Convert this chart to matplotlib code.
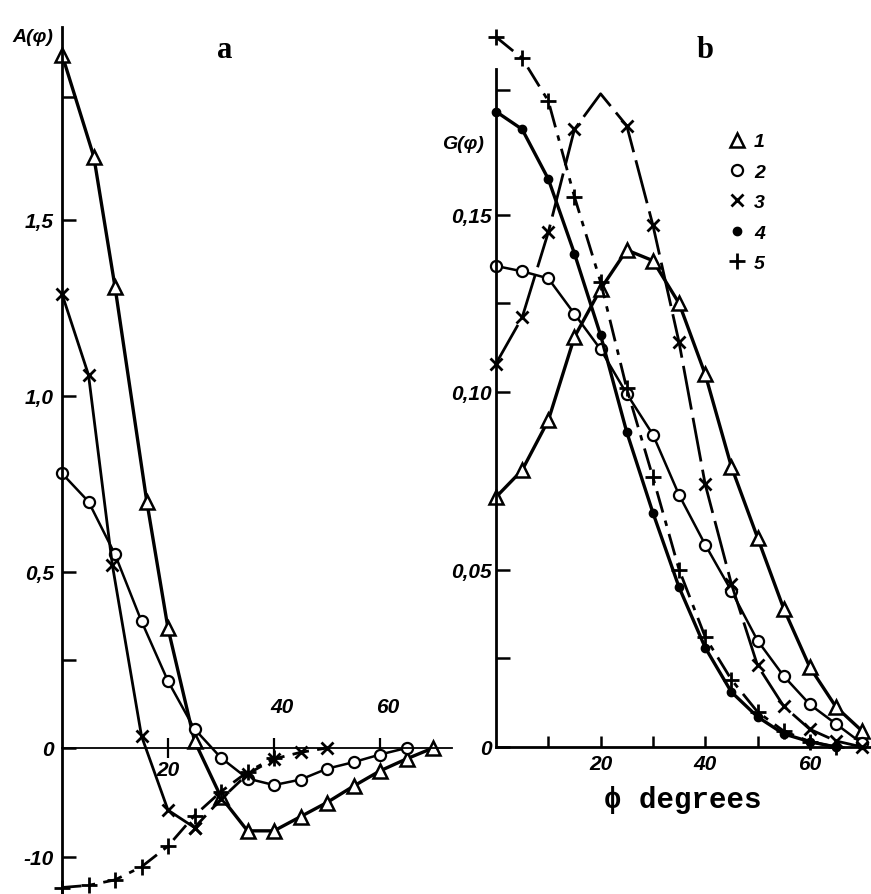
import numpy as np
import matplotlib
matplotlib.use("Agg")
import matplotlib.pyplot as plt
from matplotlib.lines import Line2D
from matplotlib.ticker import NullLocator

# ---------------- data ----------------
# Panel a: A(phi); positive values in A units, negative values in the "-10" units of the lower scale
phi_a1 = [0, 6, 10, 16, 20, 25, 30, 35, 40, 45, 50, 55, 60, 65, 70]
a1 = [1.97, 1.68, 1.31, 0.70, 0.34, 0.02, -4.5, -7.6, -7.6, -6.3, -5.0, -3.5, -2.1, -1.0, 0.0]
phi_a2 = [0, 5, 10, 15, 20, 25, 30, 35, 40, 45, 50, 55, 60, 65]
a2 = [0.78, 0.70, 0.55, 0.36, 0.19, 0.054, -0.9, -2.8, -3.4, -2.9, -1.9, -1.3, -0.6, 0.0]
phi_a3 = [0, 5, 9.5, 15, 20, 25, 30, 35, 40, 45, 50]
a3 = [1.29, 1.06, 0.52, 0.034, -5.7, -7.3, -4.7, -2.4, -1.0, -0.4, 0.0]
phi_a5 = [0, 5, 10, 15, 20, 25, 30, 35, 40]
a5 = [-12.8, -12.6, -12.1, -10.9, -9.0, -6.2, -4.0, -2.2, -0.9]

# Panel b: G(phi)
phi_b = [0, 5, 10, 15, 20, 25, 30, 35, 40, 45, 50, 55, 60, 65, 70]
b1 = [0.0704, 0.078, 0.092, 0.1155, 0.129, 0.140, 0.137, 0.125, 0.105, 0.079, 0.059, 0.039, 0.0225, 0.0113, 0.0045]
b2 = [0.1355, 0.134, 0.132, 0.122, 0.112, 0.0995, 0.088, 0.071, 0.057, 0.044, 0.030, 0.020, 0.012, 0.0065, 0.001]
b3 = [0.108, 0.121, 0.145, 0.174, 0.184, 0.175, 0.147, 0.114, 0.074, 0.046, 0.023, 0.0115, 0.005, 0.0017, 0.0]
b4 = [0.179, 0.174, 0.160, 0.139, 0.116, 0.0887, 0.066, 0.045, 0.028, 0.0155, 0.0085, 0.0037, 0.0015, 0.0]
b5 = [0.200, 0.194, 0.182, 0.155, 0.131, 0.101, 0.076, 0.050, 0.031, 0.019, 0.0099, 0.0045, 0.0015, 0.0]

a_yticks = [-10, 0, 0.5, 1.0, 1.5, 1.85]
a_ylabels = ["-10", "0", "0,5", "1,0", "1,5", ""]
a_xticks = [20, 40, 60]
b_yticks = [0, 0.05, 0.10, 0.15, 0.185]
b_ylabels = ["0", "0,05", "0,10", "0,15", ""]
b_xticks = [10, 20, 30, 40, 50, 60]
b_xlabels = ["", "20", "", "40", "", "60"]
legend_labels = ["1", "2", "3", "4", "5"]

# ---------------- figure ----------------
W, H = 871, 895
fig = plt.figure(figsize=(W / 100, H / 100), dpi=100)
fig.patch.set_facecolor("white")

def rect(x0, y0, x1, y1):
    return [x0 / W, 1 - y1 / H, (x1 - x0) / W, (y1 - y0) / H]

TICKFONT = dict(family=["Liberation Sans", "DejaVu Sans"], style="italic", weight="bold", size=15)
K = 10.9 / 352.0

def fwd(v):
    v = np.asarray(v, dtype=float)
    return np.where(v >= 0, v, v * K)

def inv(u):
    u = np.asarray(u, dtype=float)
    return np.where(u >= 0, u, u / K)

styles = {
    1: dict(marker="^", ms=10, mfc="white", mec="black", mew=1.8, lw=2.4),
    2: dict(marker="o", ms=8, mfc="white", mec="black", mew=1.6, lw=1.8),
    3: dict(marker="x", ms=9, mec="black", mew=2.0, lw=2.0),
    4: dict(marker="o", ms=6, mfc="black", mec="black", lw=2.4),
    5: dict(marker="+", ms=11, mec="black", mew=2.0, lw=2.0),
}

# ---------------- panel a ----------------
axa = fig.add_axes(rect(62, 28, 452, 895))
axa.set_yscale("function", functions=(fwd, inv))
axa.set_xlim(0, (452 - 62) / 5.3)
axa.set_ylim(-(895 - 749) / 10.9, (749 - 28) / 352)
for s in ("top", "right"):
    axa.spines[s].set_visible(False)
axa.spines["bottom"].set_position(("data", 0))
axa.spines["bottom"].set_linewidth(1.3)
axa.spines["left"].set_linewidth(2.0)
axa.patch.set_alpha(0)

axa.plot(phi_a1, a1, color="black", clip_on=False, **styles[1])
axa.plot(phi_a2, a2, color="black", clip_on=False, **styles[2])
axa.plot(phi_a3[:6], a3[:6], color="black", clip_on=False, **styles[3])
axa.plot(phi_a3[5:], a3[5:], color="black", clip_on=False, ls=(0, (6, 3)), **styles[3])
axa.plot(phi_a5, a5, color="black", clip_on=False, ls=(0, (7, 3, 2, 3)), **styles[5])

axa.set_yticks(a_yticks, labels=a_ylabels)
axa.set_yticks([0.25], minor=True)
axa.set_xticks(a_xticks, labels=["20", "", ""])
axa.xaxis.set_minor_locator(NullLocator())
axa.tick_params(axis="y", which="both", direction="in", length=10, width=1.8, pad=6)
axa.tick_params(axis="x", direction="inout", length=14, width=1.6, pad=2)
for lab in axa.get_yticklabels() + axa.get_xticklabels():
    lab.set_fontproperties(matplotlib.font_manager.FontProperties(**TICKFONT))
for xv in a_xticks[1:]:
    axa.text(xv + 1.5, 0.09, str(xv), ha="center", va="bottom", **{"fontfamily": TICKFONT["family"], "fontstyle": "italic", "fontweight": "bold", "fontsize": 15})

axa.set_ylabel("A(φ)", rotation=0, fontfamily=TICKFONT["family"], fontstyle="italic", fontweight="bold", fontsize=14, va="center", ha="center")
axa.yaxis.set_label_coords((33 - 62) / 390, (895 - 37) / 867)
axa.text((225 - 62) / 390, (895 - 50) / 867, "a", transform=axa.transAxes, ha="center", va="center",
         fontfamily=["Liberation Serif", "DejaVu Serif"], fontweight="bold", fontsize=22)

# ---------------- panel b ----------------
axb = fig.add_axes(rect(496, 20, 871, 748))
axb.set_xlim(0, 375 / 5.23)
axb.set_ylim(0, 728 / 3550)
for s in ("top", "right"):
    axb.spines[s].set_visible(False)
axb.spines["left"].set_bounds(0, (748 - 70) / 3550)
axb.spines["left"].set_linewidth(2.0)
axb.spines["bottom"].set_linewidth(2.0)
axb.patch.set_alpha(0)

axb.plot(phi_b, b1, color="black", clip_on=False, **styles[1])
axb.plot(phi_b, b2, color="black", clip_on=False, **styles[2])
axb.plot(phi_b, b3, color="black", clip_on=False, ls=(0, (16, 3)),
         markevery=[i for i in range(len(b3)) if i != 4], **styles[3])
axb.plot(phi_b[:len(b4)], b4, color="black", clip_on=False, **styles[4])
axb.plot(phi_b[:len(b5)], b5, color="black", clip_on=False, ls=(0, (8, 3, 2, 3)), **styles[5])

axb.set_yticks(b_yticks, labels=b_ylabels)
axb.set_yticks([0.025, 0.125], minor=True)
axb.set_xticks(b_xticks, labels=b_xlabels)
axb.tick_params(axis="y", which="both", direction="in", length=10, width=1.8, pad=3)
axb.tick_params(axis="x", direction="in", length=8, width=1.8, pad=5)
for lab in axb.get_yticklabels() + axb.get_xticklabels():
    lab.set_fontproperties(matplotlib.font_manager.FontProperties(**TICKFONT))

axb.set_ylabel("G(φ)", rotation=0, fontfamily=TICKFONT["family"], fontstyle="italic", fontweight="bold", fontsize=14, va="center", ha="center")
axb.yaxis.set_label_coords((463 - 496) / 375, (748 - 145) / 728)
axb.set_xlabel("ϕ degrees", fontfamily=["Liberation Mono", "DejaVu Sans Mono"], fontweight="bold", fontsize=21, va="center", ha="center")
axb.xaxis.set_label_coords((683 - 496) / 375, (748 - 800) / 728)
axb.text((705 - 496) / 375, (748 - 50) / 728, "b", transform=axb.transAxes, ha="center", va="center",
         fontfamily=["Liberation Serif", "DejaVu Serif"], fontweight="bold", fontsize=22)

handles = []
for k in range(1, 6):
    st = dict(styles[k])
    st.pop("lw")
    handles.append(Line2D([], [], color="black", ls="none", **st))
leg = axb.legend(handles, legend_labels, loc="upper left",
                 bbox_to_anchor=((718 - 496) / 375, (748 - 124) / 728),
                 frameon=False, handlelength=1.0, handletextpad=0.35, labelspacing=0.66, borderpad=0,
                 prop=matplotlib.font_manager.FontProperties(**{**TICKFONT, "size": 14}))

fig.savefig("out.png", dpi=100, facecolor="white")
